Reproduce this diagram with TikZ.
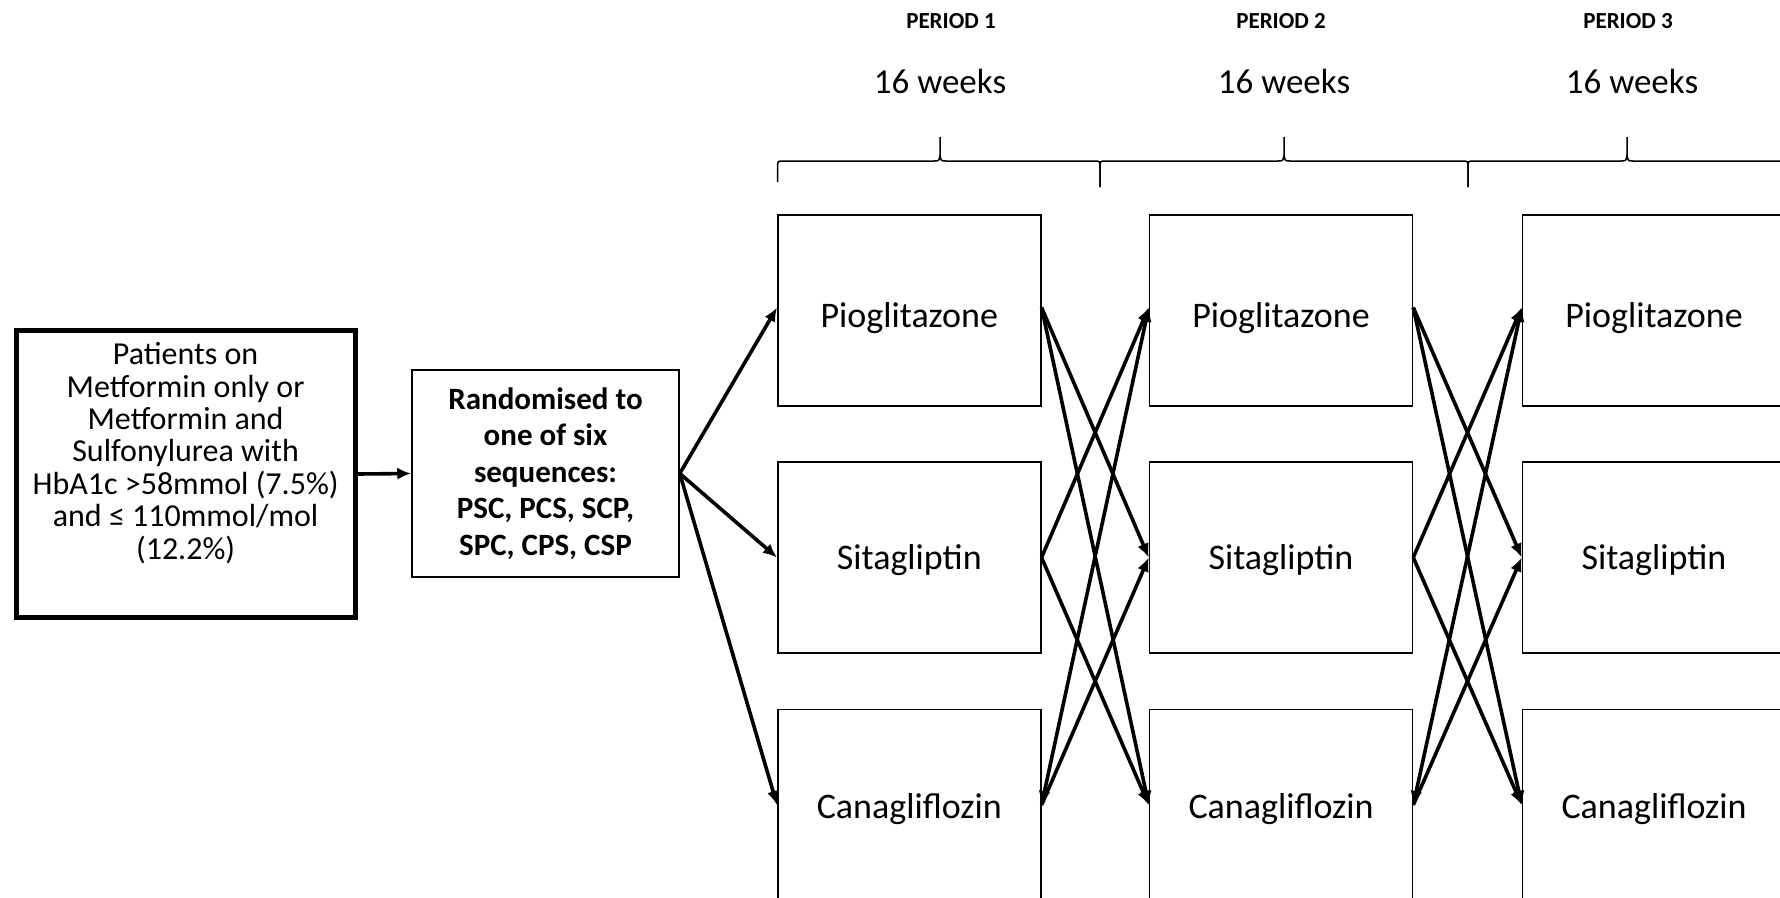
\documentclass[tikz,border=0pt]{standalone}
\usepackage{fontspec}
\setmainfont{Carlito}
\usetikzlibrary{arrows.meta}
\begin{document}
\begin{tikzpicture}[x=1pt,y=-1pt,
  trt/.style={draw, line width=1.5pt, minimum width=263pt, minimum height=191pt, inner sep=0pt, font=\fontsize{36}{40}\selectfont},
  arr/.style={line width=3.6pt, -{Latex[length=14pt,width=12pt]}},
  dblarr/.style={line width=3.6pt, {Latex[length=14pt,width=12pt]}-{Latex[length=14pt,width=12pt]}},
  brace/.style={line width=1.5pt},
  period/.style={font=\bfseries\fontsize{23}{26}\selectfont},
  weeks/.style={font=\fontsize{35}{40}\selectfont}
]
\useasboundingbox (0,0) rectangle (1780,897);
\clip (0,0) rectangle (1780,897);

% headers
\node[period] (per1) at (951,21) {PERIOD 1};
\node[period] (per2) at (1281,21) {PERIOD 2};
\node[period] (per3) at (1628,21) {PERIOD 3};
\node[weeks] (wk1) at (940,81) {16 weeks};
\node[weeks] (wk2) at (1284,81) {16 weeks};
\node[weeks] (wk3) at (1632,81) {16 weeks};

% braces
\draw[brace] (777.6,182) -- (777.6,167) .. controls (777.6,161) .. (783.6,161) -- (934,161) .. controls (939,161) .. (940,155) -- (940,137) -- (940,155) .. controls (941,161) .. (946,161) -- (1094,161) .. controls (1100,161) .. (1100,167) -- (1100,187);
\draw[brace] (1100,187) -- (1100,167) .. controls (1100,161) .. (1106,161) -- (1278,161) .. controls (1283,161) .. (1284,155) -- (1284,137) -- (1284,155) .. controls (1285,161) .. (1290,161) -- (1462,161) .. controls (1468,161) .. (1468,167) -- (1468,187);
\draw[brace] (1468,187) -- (1468,167) .. controls (1468,161) .. (1474,161) -- (1621,161) .. controls (1626,161) .. (1627,155) -- (1627,137) -- (1627,155) .. controls (1628,161) .. (1633,161) -- (1800,161);

% left boxes
\node[draw, line width=5pt, minimum width=339pt, minimum height=287pt, inner sep=0pt] (pat) at (185.6,474) {};
\node[align=center, font=\fontsize{32}{32.4}\selectfont] (pattxt) at (185.6,453) {Patients on\\Metformin only or\\Metformin and\\Sulfonylurea with\\HbA1c >58mmol (7.5\%)\\and ≤ 110mmol/mol\\(12.2\%)};
\node[draw, line width=1.5pt, minimum width=267pt, minimum height=207pt, inner sep=0pt, align=center, font=\bfseries\fontsize{31}{36.6}\selectfont] (rand) at (545.5,473.5) {Randomised to\\one of six\\sequences:\\PSC, PCS, SCP,\\SPC, CPS, CSP};

% treatment boxes
\foreach \c/\x in {1/909.3, 2/1281, 3/1654} {
  \node[trt, text height=33pt, text depth=0pt] (P\c) at (\x,310.5) {Pioglitazone};
  \node[trt, text height=31pt, text depth=7pt] (S\c) at (\x,557.5) {Sitagliptin};
  \node[trt, text height=33pt, text depth=7pt] (C\c) at (\x,805) {Canagliflozin};
}

% arrows
\draw[arr] (pat.east) -- (rand.west);
\draw[arr] (rand.east) -- ([yshift=3pt]P1.west);
\draw[arr] (rand.east) -- (S1.west);
\draw[arr] (rand.east) -- (C1.west);

\foreach \a/\b in {1/2, 2/3} {
  \draw[arr] ([yshift=3pt]P\a.east) -- (S\b.west);
  \draw[arr] ([yshift=3pt]P\a.east) -- (C\b.west);
  \draw[arr] (S\a.east) -- ([yshift=3pt]P\b.west);
  \draw[arr] (S\a.east) -- (C\b.west);
  \draw[dblarr] (C\a.east) -- ([yshift=3pt]P\b.west);
  \draw[arr] (C\a.east) -- (S\b.west);
}
\end{tikzpicture}
\end{document}
